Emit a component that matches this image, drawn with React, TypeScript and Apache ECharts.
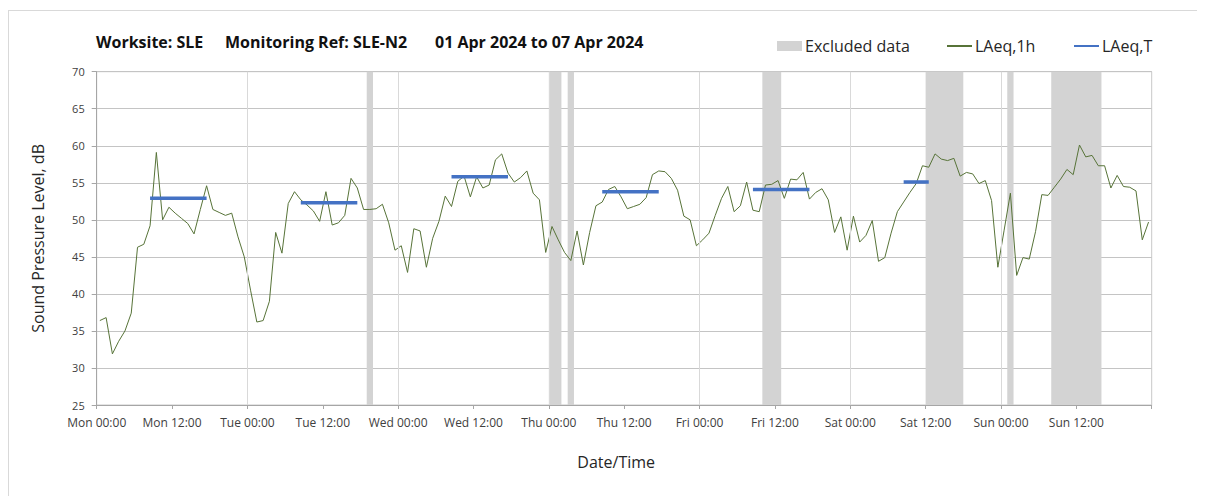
import React, { useEffect, useRef } from 'react';
import * as echarts from 'echarts';

const dayNames = ['Mon', 'Tue', 'Wed', 'Thu', 'Fri', 'Sat', 'Sun'];
const titleParts = ['Worksite: SLE', 'Monitoring Ref: SLE-N2', '01 Apr 2024 to 07 Apr 2024'];

// Hourly LAeq,1h values (dB), one per hour from Mon 00:00 to Sun 23:00
const laeq1h = [
  36.4, 36.8, 31.9, 33.6, 35.0, 37.4, 46.3, 46.7, 49.2, 59.1, 50.0, 51.7,
  50.9, 50.2, 49.5, 48.1, 51.4, 54.6, 51.4, 51.0, 50.6, 50.9, 47.7, 45.0,
  40.5, 36.2, 36.4, 39.0, 48.3, 45.5, 52.2, 53.8, 52.7, 52.0, 51.2, 49.8,
  53.8, 49.3, 49.6, 50.6, 55.6, 54.3, 51.4, 51.4, 51.5, 52.1, 49.6, 45.9,
  46.5, 42.9, 48.8, 48.5, 43.6, 47.5, 49.8, 53.2, 51.8, 55.2, 55.9, 53.1,
  55.8, 54.3, 54.7, 58.1, 58.9, 56.3, 55.1, 55.7, 56.6, 53.6, 52.7, 45.6,
  49.1, 47.3, 45.6, 44.5, 48.5, 43.9, 48.3, 51.9, 52.4, 54.1, 54.5, 53.1,
  51.5, 51.8, 52.1, 53.0, 56.1, 56.6, 56.5, 55.6, 54.0, 50.5, 50.0, 46.5,
  47.3, 48.2, 50.6, 52.9, 54.5, 51.1, 51.9, 55.1, 51.3, 51.1, 54.7, 54.8,
  55.3, 52.9, 55.5, 55.4, 56.4, 52.8, 53.7, 54.2, 52.7, 48.3, 50.4, 45.9,
  50.5, 47.0, 47.9, 49.9, 44.4, 44.9, 48.2, 51.1, 52.4, 53.7, 54.9, 57.3,
  57.1, 58.9, 58.2, 58.0, 58.3, 55.9, 56.4, 56.2, 54.9, 55.3, 52.6, 43.6,
  48.6, 53.6, 42.5, 44.9, 44.7, 48.4, 53.4, 53.3, 54.4, 55.5, 56.8, 56.1,
  60.1, 58.5, 58.7, 57.3, 57.3, 54.3, 56.0, 54.5, 54.4, 53.9, 47.3, 49.7,
];

// LAeq,T daytime periods (hour index start/end) and levels
const laeqTStart = [8, 32, 56, 80, 104, 128];
const laeqTEnd = [17, 41, 65, 89, 113, 132];
const laeqTLevel = [52.9, 52.3, 55.8, 53.8, 54.1, 55.1];

// Excluded data periods (hours from Mon 00:00)
const excludedStart = [43, 72, 75, 106, 132, 145, 152];
const excludedEnd = [44, 74, 76, 109, 138, 146, 160];

const dayBoundaries = [24, 48, 72, 96, 120, 144];

const FONT = '"Open Sans", sans-serif';

export default function App() {
  const ref = useRef<HTMLDivElement>(null);
  useEffect(() => {
    if (!ref.current) return;
    const chart = echarts.init(ref.current, undefined, { renderer: 'svg' });

    const lineData = laeq1h.map((v, i) => [i + 0.5, v]);
    const tData: any[] = [];
    laeqTStart.forEach((s, i) => {
      tData.push([s + 0.5, laeqTLevel[i]]);
      tData.push([laeqTEnd[i] + 0.5, laeqTLevel[i]]);
      tData.push([laeqTEnd[i] + 1, null]);
    });

    const legendBase = {
      top: 27,
      padding: 0,
      itemWidth: 25,
      itemHeight: 10,
      textStyle: { fontSize: 16, color: '#262626', fontFamily: FONT, padding: [0, 0, 0, -2] },
    };

    const option: any = {
      animation: false,
      backgroundColor: '#ffffff',
      graphic: [
        { type: 'text', left: 87, top: 23, style: { text: titleParts[0], font: 'bold 16px ' + FONT, fill: '#111' } },
        { type: 'text', left: 216, top: 23, style: { text: titleParts[1], font: 'bold 16px ' + FONT, fill: '#111' } },
        { type: 'text', left: 426, top: 23, style: { text: titleParts[2], font: 'bold 16px ' + FONT, fill: '#111' } },
      ],
      legend: [
        { ...legendBase, left: 768, data: [{ name: 'Excluded data', icon: 'rect', itemStyle: { color: '#d3d3d3' } }] },
        { ...legendBase, left: 937, data: [{ name: 'LAeq,1h', itemStyle: { opacity: 0 } }] },
        { ...legendBase, left: 1064, data: [{ name: 'LAeq,T', itemStyle: { opacity: 0 } }] },
      ],
      grid: { left: 87.7, top: 60.7, width: 1055, height: 333.3, show: true, borderColor: '#c8c8c8', borderWidth: 1, backgroundColor: 'transparent' },
      xAxis: {
        type: 'value',
        min: 0,
        max: 168,
        interval: 12,
        name: 'Date/Time',
        nameLocation: 'middle',
        nameGap: 49,
        nameTextStyle: { fontSize: 16, color: '#262626', fontFamily: FONT, padding: [0, 16, 0, 0] },
        axisLine: { show: true, lineStyle: { color: '#a6a6a6' } },
        axisTick: { show: true, length: 4, lineStyle: { color: '#a6a6a6' } },
        axisLabel: {
          fontSize: 12,
          color: '#404040',
          fontFamily: FONT,
          margin: 11,
          formatter: (v: number) => {
            if (v >= 168) return '';
            const d = dayNames[Math.floor(v / 24)];
            return d + ' ' + (v % 24 === 0 ? '00:00' : '12:00');
          },
        },
        splitLine: { show: false },
      },
      yAxis: {
        type: 'value',
        min: 25,
        max: 70,
        interval: 5,
        name: 'Sound Pressure Level, dB',
        nameLocation: 'middle',
        nameGap: 51,
        nameTextStyle: { fontSize: 16, color: '#262626', fontFamily: FONT },
        axisLine: { show: true, lineStyle: { color: '#a6a6a6' } },
        axisTick: { show: true, length: 5, lineStyle: { color: '#a6a6a6' } },
        axisLabel: { fontSize: 11, color: '#404040', fontFamily: FONT, margin: 12 },
        splitLine: { show: true, lineStyle: { color: '#c4c4c4', width: 1 } },
      },
      series: [
        {
          name: 'Excluded data',
          type: 'line',
          data: [],
          color: '#d3d3d3',
          z: -1,
          silent: true,
          markArea: {
            silent: true,
            itemStyle: { color: '#d3d3d3' },
            data: excludedStart.map((s, i) => [{ xAxis: s }, { xAxis: excludedEnd[i] }]),
          },
          markLine: {
            silent: true,
            symbol: 'none',
            label: { show: false },
            lineStyle: { color: '#d9d9d9', width: 1, type: 'solid' },
            data: dayBoundaries.map((d) => ({ xAxis: d })),
          },
        },
        {
          name: 'LAeq,1h',
          type: 'line',
          data: lineData,
          symbol: 'none',
          color: '#577338',
          lineStyle: { color: '#577338', width: 1 },
          z: 3,
        },
        {
          name: 'LAeq,T',
          type: 'line',
          data: tData,
          symbol: 'none',
          connectNulls: false,
          color: '#4472c4',
          lineStyle: { color: '#4472c4', width: 3.5 },
          z: 4,
        },
      ],
    };
    chart.setOption(option);
    return () => chart.dispose();
  }, []);

  return (
    <div style={{ width: 1195, height: 488, marginTop: 2, border: '1px solid #d9d9d9', boxSizing: 'border-box' }}>
      <div ref={ref} style={{ width: '100%', height: '100%' }} />
    </div>
  );
}
